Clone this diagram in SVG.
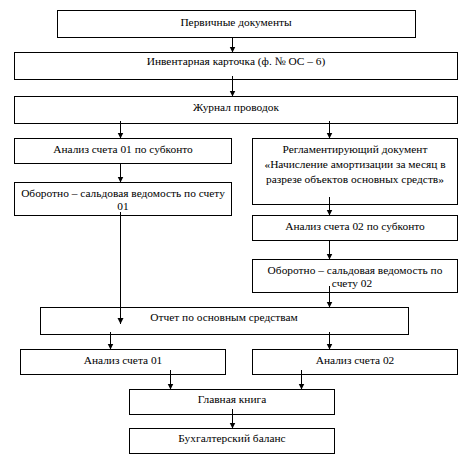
<svg xmlns="http://www.w3.org/2000/svg" width="475" height="464" viewBox="0 0 475 464">
<style>
.box{fill:#fff;stroke:#000;stroke-width:1}
text{font-family:"Liberation Serif","Times New Roman",serif;font-size:11.4px;fill:#000;text-anchor:middle}
.c{stroke:#000;stroke-width:1;fill:none;marker-end:url(#ah)}
</style>
<defs>
<marker id="ah" markerUnits="userSpaceOnUse" markerWidth="7" markerHeight="7" refX="6" refY="3" orient="auto">
<path d="M0,0 L6,3 L0,6 z" fill="#000"/>
</marker>
</defs>
<rect width="475" height="464" fill="#fff"/>
<g id="n1"><rect class="box" x="57.5" y="10.5" width="358" height="27"/><text x="236" y="26">Первичные документы</text></g>
<g id="n2"><rect class="box" x="14.5" y="52.5" width="443" height="27"/><text x="236" y="65">Инвентарная карточка (ф. № ОС – 6)</text></g>
<g id="n3"><rect class="box" x="14.5" y="96.5" width="443" height="27"/><text x="236" y="110.5">Журнал проводок</text></g>
<g id="n4"><rect class="box" x="14.5" y="138.5" width="217" height="25"/><text x="123" y="153">Анализ счета 01 по субконто</text></g>
<g id="n5"><rect class="box" x="14.5" y="182.5" width="217" height="33"/><text x="123" y="197">Оборотно – сальдовая ведомость по счету</text><text x="123" y="210">01</text></g>
<g id="n6"><rect class="box" x="252.5" y="138.5" width="205" height="66"/><text x="355" y="153">Регламентирующий документ</text><text x="355" y="168">«Начисление амортизации за месяц в</text><text x="355" y="183">разрезе объектов основных средств»</text></g>
<g id="n7"><rect class="box" x="252.5" y="215.5" width="205" height="25"/><text x="355" y="230">Анализ счета 02 по субконто</text></g>
<g id="n8"><rect class="box" x="252.5" y="259.5" width="205" height="33"/><text x="355" y="274">Оборотно – сальдовая ведомость по</text><text x="352" y="287">счету 02</text></g>
<g id="n9"><rect class="box" x="40.5" y="307.5" width="368" height="27"/><text x="224" y="321">Отчет по  основным средствам</text></g>
<g id="n10"><rect class="box" x="20.5" y="349.5" width="205" height="25"/><text x="123" y="364">Анализ счета 01</text></g>
<g id="n11"><rect class="box" x="252.5" y="349.5" width="205" height="25"/><text x="355" y="364">Анализ счета 02</text></g>
<g id="n12"><rect class="box" x="129.5" y="389.5" width="205" height="25"/><text x="232" y="403">Главная книга</text></g>
<g id="n13"><rect class="box" x="129.5" y="428.5" width="205" height="25"/><text x="232" y="442">Бухгалтерский баланс</text></g>
<g id="connectors">
<path class="c" d="M232.5,38 V52.5"/>
<path class="c" d="M232.5,76 V96.5"/>
<path class="c" d="M120.5,121 V138.5"/>
<path class="c" d="M120.5,164 V182.5"/>
<path class="c" d="M120.5,212 V324"/>
<path class="c" d="M329.5,121 V138.5"/>
<path class="c" d="M329.5,197 V215.5"/>
<path class="c" d="M329.5,241 V259.5"/>
<path class="c" d="M329.5,286 V307.5"/>
<path class="c" d="M110.5,332 V349.5"/>
<path class="c" d="M329.5,332 V349.5"/>
<path class="c" d="M170.5,370 V389.5"/>
<path class="c" d="M301.5,370 V389.5"/>
<path class="c" d="M232.5,409 V428.5"/>
</g>
</svg>
